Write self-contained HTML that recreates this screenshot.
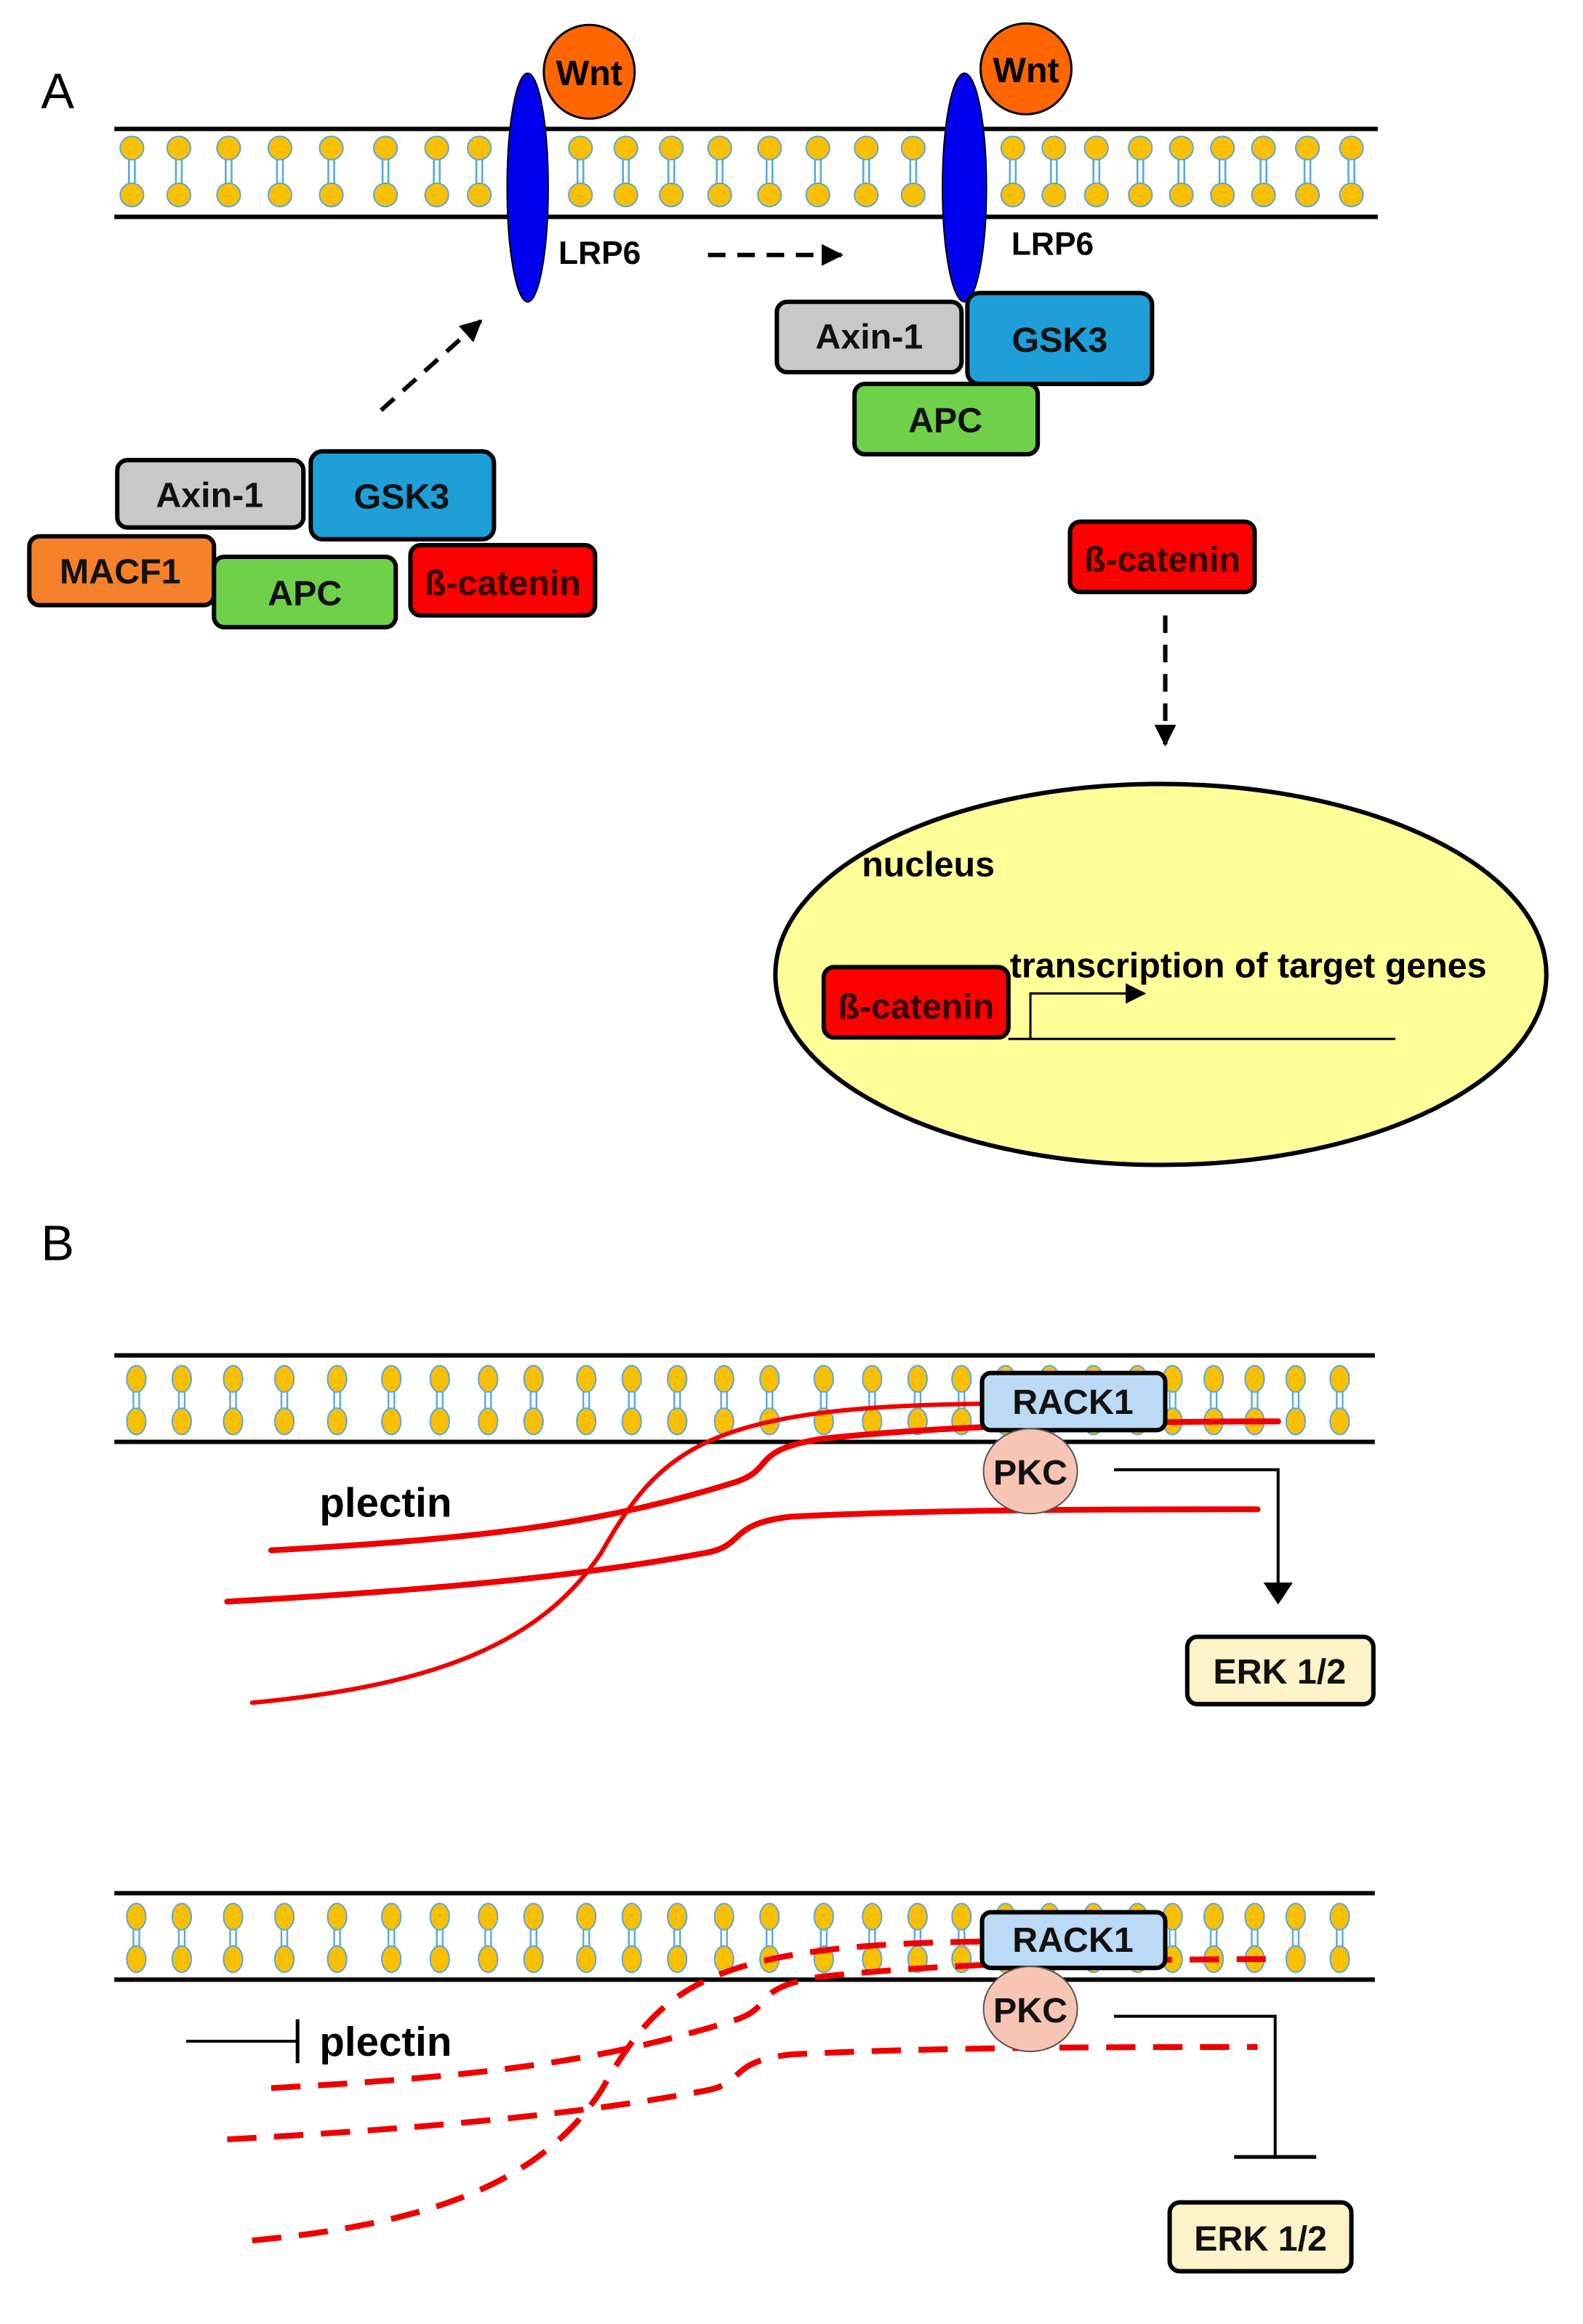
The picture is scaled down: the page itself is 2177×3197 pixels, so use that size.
<!DOCTYPE html>
<html><head><meta charset="utf-8"><style>
html,body{margin:0;padding:0;background:#fff;}
svg{display:block;}
text{font-family:"Liberation Sans",Arial,sans-serif;}
</style></head><body>
<svg width="2177" height="3197" viewBox="0 0 1080 1586" preserveAspectRatio="none" xmlns="http://www.w3.org/2000/svg">
<defs>
<g id="lipA"><line x1="-2" y1="101" x2="-2" y2="133" stroke="#5aa8e0" stroke-width="1.3"/><line x1="2" y1="101" x2="2" y2="133" stroke="#5aa8e0" stroke-width="1.3"/><circle cy="101" r="8" fill="#f8c000" stroke="#5aa8e0" stroke-width="1"/><circle cy="133" r="8" fill="#f8c000" stroke="#5aa8e0" stroke-width="1"/></g>
<g id="lipB"><line x1="-2" y1="941" x2="-2" y2="970" stroke="#5aa8e0" stroke-width="1.2"/><line x1="2" y1="941" x2="2" y2="970" stroke="#5aa8e0" stroke-width="1.2"/><ellipse cy="941" rx="6.5" ry="9" fill="#f8c000" stroke="#5aa8e0" stroke-width="1"/><ellipse cy="970" rx="6.5" ry="9" fill="#f8c000" stroke="#5aa8e0" stroke-width="1"/></g>
<marker id="ah" viewBox="0 0 10 10" refX="9" refY="5" markerWidth="5" markerHeight="5" orient="auto"><path d="M0,0 L10,5 L0,10 z" fill="#000"/></marker>
</defs>

<!-- Panel A -->
<text x="28" y="74" font-size="34">A</text>
<line x1="78" y1="88" x2="940" y2="88" stroke="#000" stroke-width="3"/>
<line x1="78" y1="148" x2="940" y2="148" stroke="#000" stroke-width="3"/>
<g>
<use href="#lipA" x="90"/><use href="#lipA" x="122"/><use href="#lipA" x="156"/><use href="#lipA" x="191"/><use href="#lipA" x="226"/><use href="#lipA" x="263"/><use href="#lipA" x="298"/><use href="#lipA" x="327"/>
<use href="#lipA" x="396"/><use href="#lipA" x="427"/><use href="#lipA" x="458"/><use href="#lipA" x="491"/><use href="#lipA" x="525"/><use href="#lipA" x="558"/><use href="#lipA" x="591"/><use href="#lipA" x="623"/>
<use href="#lipA" x="691"/><use href="#lipA" x="719"/><use href="#lipA" x="748"/><use href="#lipA" x="778"/><use href="#lipA" x="806"/><use href="#lipA" x="834"/><use href="#lipA" x="862"/><use href="#lipA" x="892"/><use href="#lipA" x="922"/>
</g>
<ellipse cx="402" cy="49" rx="31" ry="32" fill="#ff6600" stroke="#000" stroke-width="1.5"/>
<text x="402" y="58" font-size="24" font-weight="bold" text-anchor="middle">Wnt</text>
<ellipse cx="360" cy="128" rx="14" ry="78" fill="#0000ee" stroke="#000" stroke-width="1"/>
<text x="381" y="180" font-size="22" font-weight="bold">LRP6</text>
<ellipse cx="700" cy="47" rx="31" ry="31" fill="#ff6600" stroke="#000" stroke-width="1.5"/>
<text x="700" y="56" font-size="24" font-weight="bold" text-anchor="middle">Wnt</text>
<ellipse cx="658" cy="128" rx="15" ry="78" fill="#0000ee" stroke="#000" stroke-width="1"/>
<text x="690" y="174" font-size="22" font-weight="bold">LRP6</text>

<line x1="483" y1="174" x2="574" y2="174" stroke="#000" stroke-width="3" stroke-dasharray="12,8" marker-end="url(#ah)"/>
<line x1="260" y1="280" x2="328" y2="219" stroke="#000" stroke-width="3" stroke-dasharray="12,8" marker-end="url(#ah)"/>

<g stroke="#000" stroke-width="3" font-size="24" font-weight="bold" text-anchor="middle">
<rect x="80" y="314" width="127" height="46" rx="7" fill="#c8c8c8"/>
<rect x="212" y="308" width="125" height="60" rx="8" fill="#1e9fd8"/>
<rect x="20" y="366" width="126" height="47" rx="7" fill="#f5822a"/>
<rect x="146" y="380" width="124" height="48" rx="7" fill="#6fd04a"/>
<rect x="280" y="372" width="126" height="48" rx="7" fill="#ff0000"/>
<rect x="530" y="206" width="126" height="48" rx="7" fill="#c8c8c8"/>
<rect x="660" y="200" width="126" height="62" rx="8" fill="#1e9fd8"/>
<rect x="583" y="262" width="125" height="48" rx="7" fill="#6fd04a"/>
<rect x="730" y="356" width="126" height="48" rx="7" fill="#ff0000"/>
</g>
<g font-size="24" font-weight="bold" text-anchor="middle" fill="#111">
<text x="143" y="346">Axin-1</text>
<text x="274" y="347">GSK3</text>
<text x="82" y="398">MACF1</text>
<text x="208" y="413">APC</text>
<text x="343" y="406" fill="#300">ß-catenin</text>
<text x="593" y="238">Axin-1</text>
<text x="723" y="240">GSK3</text>
<text x="645" y="295">APC</text>
<text x="793" y="390" fill="#300">ß-catenin</text>
</g>
<line x1="795" y1="420" x2="795" y2="508" stroke="#000" stroke-width="3" stroke-dasharray="12,8" marker-end="url(#ah)"/>

<ellipse cx="792" cy="665" rx="263" ry="130" fill="#ffff99" stroke="#000" stroke-width="3"/>
<text x="588" y="598" font-size="24" font-weight="bold">nucleus</text>
<rect x="562" y="660" width="126" height="48" rx="7" fill="#ff0000" stroke="#000" stroke-width="3"/>
<text x="625" y="695" font-size="24" font-weight="bold" text-anchor="middle" fill="#300">ß-catenin</text>
<line x1="688" y1="709" x2="952" y2="709" stroke="#000" stroke-width="1.5"/>
<polyline points="703,709 703,678 772,678" fill="none" stroke="#000" stroke-width="1.5"/>
<path d="M768,671 L782,678 L768,685 z" fill="#000"/>
<text x="689" y="667" font-size="24" font-weight="bold">transcription  of target genes</text>

<!-- Panel B -->
<text x="28" y="860" font-size="34">B</text>

<!-- membrane B1 -->
<g id="memB">
<line x1="78" y1="925" x2="938" y2="925" stroke="#000" stroke-width="3"/>
<line x1="78" y1="984" x2="938" y2="984" stroke="#000" stroke-width="3"/>
<use href="#lipB" x="93"/><use href="#lipB" x="124"/><use href="#lipB" x="159"/><use href="#lipB" x="194"/><use href="#lipB" x="230"/><use href="#lipB" x="267"/><use href="#lipB" x="300"/><use href="#lipB" x="333"/><use href="#lipB" x="364"/><use href="#lipB" x="400"/><use href="#lipB" x="431"/><use href="#lipB" x="462"/><use href="#lipB" x="494"/><use href="#lipB" x="525"/><use href="#lipB" x="562"/><use href="#lipB" x="595"/><use href="#lipB" x="626"/><use href="#lipB" x="656"/><use href="#lipB" x="686"/><use href="#lipB" x="716"/><use href="#lipB" x="746"/><use href="#lipB" x="776"/><use href="#lipB" x="800"/><use href="#lipB" x="828"/><use href="#lipB" x="856"/><use href="#lipB" x="884"/><use href="#lipB" x="914"/>
</g>
<g fill="none" stroke="#ee0000" stroke-width="4" stroke-linecap="round">
<path d="M172,1162 C300,1150 370,1120 410,1060 C450,990 480,960 670,958" stroke-width="3"/>
<path d="M185,1058 C330,1050 410,1040 500,1012 C530,1003 510,990 560,982 C650,972 780,970 872,970"/>
<path d="M155,1093 C300,1085 400,1075 480,1060 C510,1055 495,1040 540,1035 C640,1030 760,1030 858,1030"/>
</g>
<rect x="670" y="937" width="125" height="39" rx="6" fill="#bcd9f5" stroke="#000" stroke-width="3"/>
<text x="732" y="965" font-size="24" font-weight="bold" text-anchor="middle" fill="#111">RACK1</text>
<ellipse cx="703" cy="1004" rx="32" ry="29" fill="#f8c4b4" stroke="#555" stroke-width="1"/>
<text x="703" y="1013" font-size="24" font-weight="bold" text-anchor="middle" fill="#111">PKC</text>
<text x="218" y="1035" font-size="28" font-weight="bold">plectin</text>
<polyline points="760,1003 872,1003 872,1085" fill="none" stroke="#000" stroke-width="2"/>
<path d="M862,1080 L872,1095 L882,1080 z" fill="#000"/>
<rect x="810" y="1117" width="127" height="46" rx="7" fill="#fdf3c8" stroke="#000" stroke-width="3"/>
<text x="873" y="1149" font-size="24" font-weight="bold" text-anchor="middle" fill="#111">ERK  1/2</text>

<!-- membrane B2 -->
<use href="#memB" y="367"/>
<g fill="none" stroke="#ee0000" stroke-width="4" stroke-dasharray="20,12">
<path d="M172,1529 C300,1517 370,1487 410,1427 C450,1357 480,1327 670,1325"/>
<path d="M185,1425 C330,1417 410,1407 500,1379 C530,1370 510,1357 560,1349 C650,1339 780,1337 872,1337"/>
<path d="M155,1460 C300,1452 400,1442 480,1427 C510,1422 495,1407 540,1402 C640,1397 760,1397 858,1397"/>
</g>
<rect x="670" y="1305" width="125" height="38" rx="6" fill="#bcd9f5" stroke="#000" stroke-width="3"/>
<text x="732" y="1332" font-size="24" font-weight="bold" text-anchor="middle" fill="#111">RACK1</text>
<ellipse cx="703" cy="1371" rx="32" ry="29" fill="#f8c4b4" stroke="#555" stroke-width="1"/>
<text x="703" y="1380" font-size="24" font-weight="bold" text-anchor="middle" fill="#111">PKC</text>
<text x="218" y="1403" font-size="28" font-weight="bold">plectin</text>
<line x1="127" y1="1393" x2="203" y2="1393" stroke="#000" stroke-width="2"/>
<line x1="203" y1="1378" x2="203" y2="1408" stroke="#000" stroke-width="2.5"/>
<polyline points="760,1376 870,1376 870,1472" fill="none" stroke="#000" stroke-width="2"/>
<line x1="842" y1="1472" x2="898" y2="1472" stroke="#000" stroke-width="2.5"/>
<rect x="798" y="1503" width="124" height="47" rx="7" fill="#fdf3c8" stroke="#000" stroke-width="3"/>
<text x="860" y="1536" font-size="24" font-weight="bold" text-anchor="middle" fill="#111">ERK  1/2</text>
</svg>
</body></html>
